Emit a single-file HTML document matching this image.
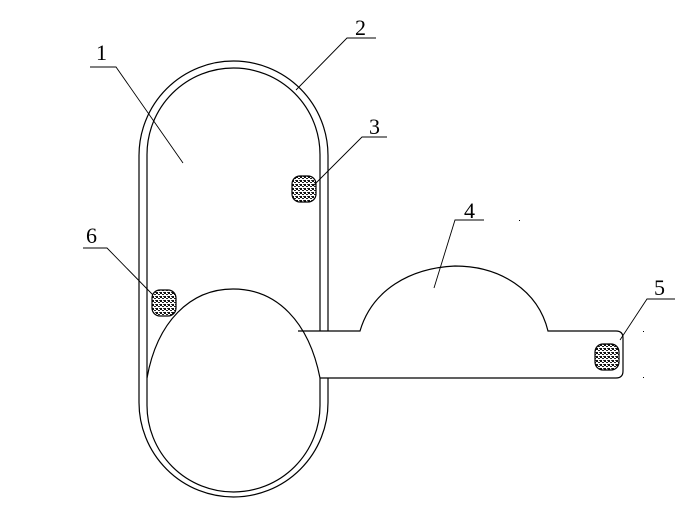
<!DOCTYPE html>
<html><head><style>
html,body{margin:0;padding:0;background:#fff}
svg{display:block}
text{font-family:"Liberation Serif",serif;font-size:22px;fill:#000}
</style></head><body>
<svg width="695" height="512" viewBox="0 0 695 512" xmlns="http://www.w3.org/2000/svg">
<defs>
<pattern id="dots" width="4" height="4" patternUnits="userSpaceOnUse">
<rect width="4" height="4" fill="#fff"/>
<rect x="0" y="0" width="2" height="2" fill="#111"/>
<rect x="2" y="2" width="2" height="1" fill="#222"/>
<rect x="3" y="0" width="1" height="1" fill="#444"/>
</pattern>
</defs>
<g fill="none" stroke="#000" stroke-width="1.2">
<path d="M328,331 V155.5 A94.5,94.5 0 0 0 139,155.5 V402.5 A94.5,94.5 0 0 0 328,402.5 V378"/>
<path d="M320,331 V154.5 A86.5,86.5 0 0 0 147,154.5 V405.5 A86.5,86.5 0 0 0 320,405.5 V378"/>
<path d="M147,378 C157,322 190,289 233,289 C277,289 309,322 320,378"/>
<path d="M298,331 H360 C372,290 410,268 455,266 C500,266 538,290 548,331 H616 Q623,331 623,338 V371 Q623,378 616,378 H320"/>
</g>
<g stroke="#000" stroke-width="1.2" fill="url(#dots)">
<rect x="292" y="176" width="24" height="26" rx="8"/>
<rect x="152" y="290" width="24" height="26" rx="8"/>
<rect x="595" y="344" width="24" height="26" rx="8"/>
</g>
<g fill="none" stroke="#000" stroke-width="0.9">
<path d="M90,67 H116 L183,163"/>
<path d="M376,38 H347 L296,90"/>
<path d="M387,137 H362 L313,186"/>
<path d="M484,220 H455 L434,288"/>
<path d="M675,299 H647 L620,340"/>
<path d="M83,248 H107 L153,295"/>
</g>
<text x="96" y="60">1</text>
<text x="355" y="35">2</text>
<text x="369" y="134">3</text>
<text x="464" y="218">4</text>
<text x="654" y="295">5</text>
<text x="86" y="243">6</text>
<g fill="#000"><rect x="643" y="331" width="1" height="1"/><rect x="643" y="377" width="1" height="1"/><rect x="519" y="220" width="1" height="1"/></g>
</svg>
</body></html>
